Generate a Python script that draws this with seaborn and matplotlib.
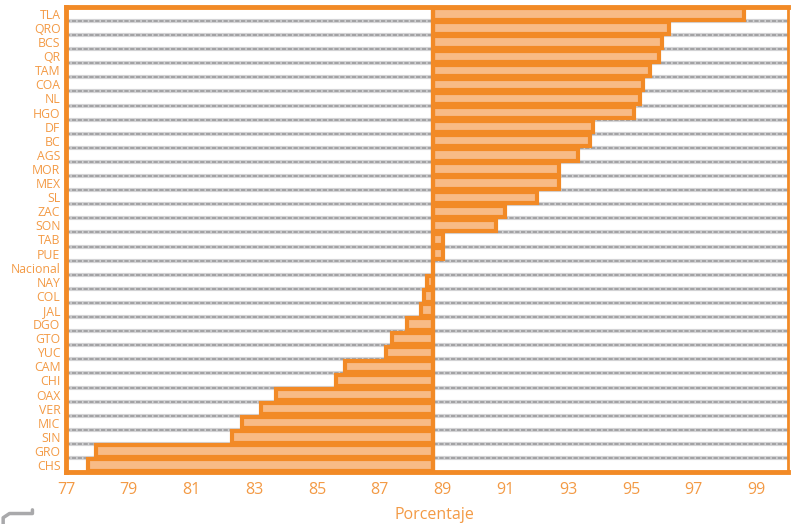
import matplotlib
matplotlib.use('Agg')
import matplotlib.pyplot as plt
import matplotlib.lines as mlines
import pandas as pd
import seaborn as sns

estados = ['TLA', 'QRO', 'BCS', 'QR', 'TAM', 'COA', 'NL', 'HGO', 'DF', 'BC', 'AGS',
           'MOR', 'MEX', 'SL', 'ZAC', 'SON', 'TAB', 'PUE', 'Nacional', 'NAY', 'COL',
           'JAL', 'DGO', 'GTO', 'YUC', 'CAM', 'CHI', 'OAX', 'VER', 'MIC', 'SIN', 'GRO', 'CHS']
porcentaje = [98.6, 96.2, 96.0, 95.9, 95.6, 95.4, 95.3, 95.1, 93.8, 93.7, 93.3,
              92.7, 92.7, 92.0, 91.0, 90.7, 89.0, 89.0, 88.7, 88.5, 88.4,
              88.3, 87.85, 87.4, 87.2, 85.9, 85.6, 83.7, 83.2, 82.6, 82.3, 77.95, 77.7]
nacional = 88.7
xticks = list(range(77, 100, 2))

naranja = '#F28A26'
relleno = '#F8BB86'
texto = '#F39A45'

df = pd.DataFrame({'estado': estados, 'porcentaje': porcentaje})
df['dif'] = df['porcentaje'] - nacional

sns.set_style('white')
plt.rcParams['font.family'] = ['Open Sans', 'DejaVu Sans']

fig = plt.figure(figsize=(7.91, 5.24), dpi=100)
ax = fig.add_axes([0.0834, 0.099, 0.9126, 0.888])

# horizontal dashed separators between rows
for i in range(len(estados) - 1):
    ax.axhline(i + 0.5, color='#D3D3D5', lw=3, zorder=0)
    ax.axhline(i + 0.5, color='#A2A2A4', lw=1.4, ls=(0, (2.2, 0.8)), zorder=0)

# bars start at the national value
sns.barplot(data=df, x='dif', y='estado', orient='h', left=nacional,
            color=relleno, edgecolor=naranja, linewidth=3, width=0.8,
            saturation=1, ax=ax, zorder=2)

ax.axvline(nacional, color=naranja, lw=3, zorder=3)

ax.set_xlim(77, 100)
ax.set_ylim(len(estados) - 0.5, -0.5)
ax.set_xticks(xticks)
ax.set_xticklabels([str(t) for t in xticks])
ax.tick_params(axis='x', colors=naranja, labelcolor=texto, labelsize=11.5,
               length=3, width=2, direction='out', pad=4)
ax.tick_params(axis='y', length=0, labelcolor=texto, labelsize=8.8, pad=4)
ax.set_xlabel('Porcentaje', color=texto, fontsize=11.5, fontweight='medium')
ax.xaxis.set_label_coords(0.51, -0.075)
ax.set_ylabel('')

for side in ['left', 'top', 'bottom']:
    ax.spines[side].set_color(naranja)
    ax.spines[side].set_linewidth(3.5)
ax.spines['right'].set_color(naranja)
ax.spines['right'].set_linewidth(2)

# small grey corner mark at the bottom-left of the page
fig.add_artist(mlines.Line2D([0.004, 0.004, 0.012, 0.041, 0.041],
                             [0.0, 0.012, 0.02, 0.02, 0.027],
                             color='#A9A9AB', lw=2.5))

fig.savefig('out.png', dpi=100)
